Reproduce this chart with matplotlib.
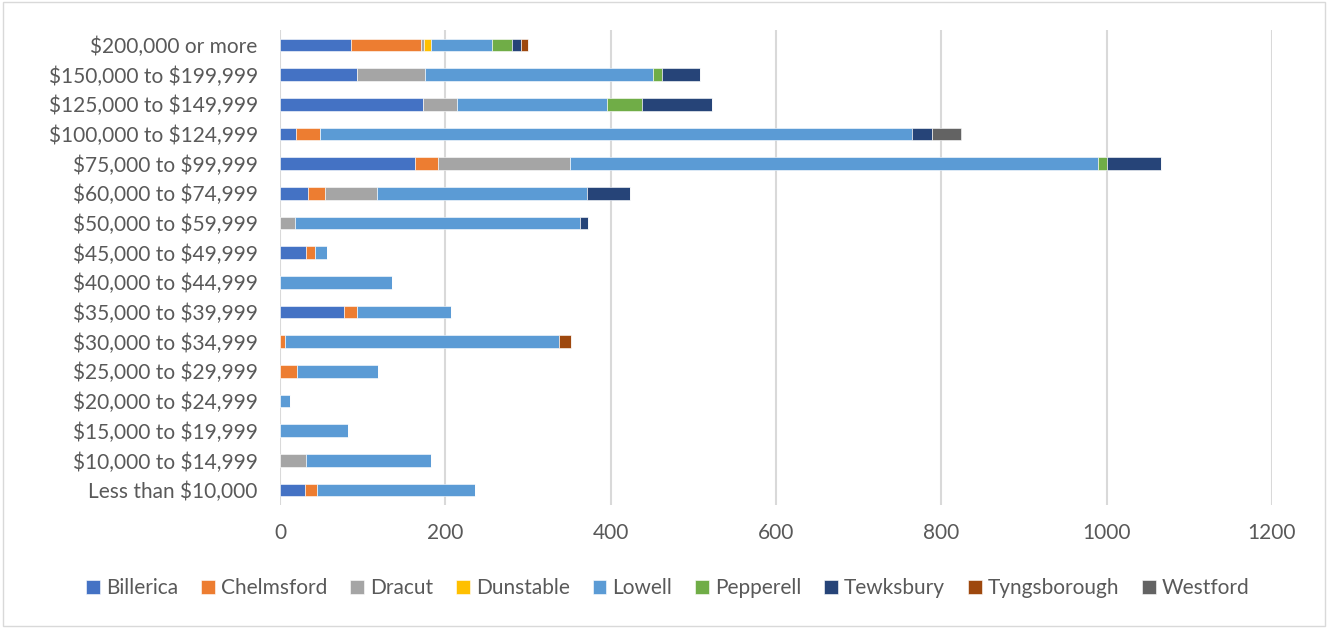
import matplotlib
matplotlib.use('Agg')
import matplotlib.pyplot as plt
import numpy as np

plt.rcParams['font.family'] = ['Lato', 'DejaVu Sans']
plt.rcParams['text.parse_math'] = False

categories = ['Less than $10,000', '$10,000 to $14,999', '$15,000 to $19,999',
              '$20,000 to $24,999', '$25,000 to $29,999', '$30,000 to $34,999',
              '$35,000 to $39,999', '$40,000 to $44,999', '$45,000 to $49,999',
              '$50,000 to $59,999', '$60,000 to $74,999', '$75,000 to $99,999',
              '$100,000 to $124,999', '$125,000 to $149,999', '$150,000 to $199,999',
              '$200,000 or more']

towns = ['Billerica', 'Chelmsford', 'Dracut', 'Dunstable', 'Lowell',
         'Pepperell', 'Tewksbury', 'Tyngsborough', 'Westford']

# households per income bracket, bottom bracket first
billerica    = [30, 0, 0, 0, 0, 0, 77, 0, 32, 0, 34, 163, 19, 173, 93, 86]
chelmsford   = [15, 0, 0, 0, 21, 6, 16, 0, 10, 0, 20, 28, 29, 0, 0, 85]
dracut       = [0, 31, 0, 0, 0, 0, 0, 0, 0, 18, 64, 160, 0, 41, 82, 3]
dunstable    = [0, 0, 0, 0, 0, 0, 0, 0, 0, 0, 0, 0, 0, 0, 0, 9]
lowell       = [191, 152, 82, 12, 98, 331, 114, 136, 15, 345, 253, 638, 717, 182, 276, 74]
pepperell    = [0, 0, 0, 0, 0, 0, 0, 0, 0, 0, 0, 12, 0, 42, 11, 24]
tewksbury    = [0, 0, 0, 0, 0, 0, 0, 0, 0, 10, 52, 65, 24, 85, 46, 11]
tyngsborough = [0, 0, 0, 0, 0, 15, 0, 0, 0, 0, 0, 0, 0, 0, 0, 8]
westford     = [0, 0, 0, 0, 0, 0, 0, 0, 0, 0, 0, 0, 35, 0, 0, 0]

series = [billerica, chelmsford, dracut, dunstable, lowell,
          pepperell, tewksbury, tyngsborough, westford]
colors = ['#4472C4', '#ED7D31', '#A5A5A5', '#FFC000', '#5B9BD5',
          '#70AD47', '#264478', '#9E480E', '#636363']

fig = plt.figure(figsize=(13.28, 6.28), dpi=100)
ax = fig.add_axes([0.2108, 0.196, 0.7470, 0.756])

y = np.arange(len(categories))
left = np.zeros(len(categories))
for name, vals, col in zip(towns, series, colors):
    vals = np.array(vals, dtype=float)
    ax.barh(y, vals, left=left, height=0.42, color=col, label=name,
            edgecolor='white', linewidth=0.4)
    left += vals

ax.set_xlim(0, 1200)
ax.set_ylim(-0.5, len(categories) - 0.5)
ax.set_xticks(np.arange(0, 1201, 200))
ax.set_yticks(y)
ax.set_yticklabels(categories)
ax.xaxis.grid(True, color='#d9d9d9', linewidth=1.5)
ax.set_axisbelow(True)
for s in ax.spines.values():
    s.set_visible(False)
ax.tick_params(axis='both', length=0, labelsize=15, colors='#595959')
ax.tick_params(axis='x', pad=13)
ax.tick_params(axis='y', pad=16)

handles, labels = ax.get_legend_handles_labels()
fig.legend(handles, labels, loc='center', bbox_to_anchor=(0.503, 0.063), ncol=9,
           frameon=False, fontsize=15, handlelength=0.65, handleheight=0.65,
           handletextpad=0.3, columnspacing=1.1, labelcolor='#595959')

fig.patches.append(plt.Rectangle((0.002, 0.003), 0.996, 0.994, transform=fig.transFigure,
                                 fill=False, edgecolor='#d9d9d9', linewidth=1))

fig.savefig('out.png', dpi=100)
